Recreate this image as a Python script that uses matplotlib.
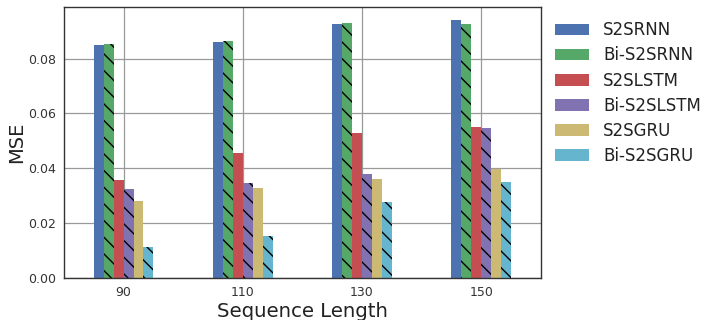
import matplotlib
matplotlib.use("Agg")
import matplotlib.pyplot as plt
import numpy as np
from matplotlib.patches import Patch

categories = ["90", "110", "130", "150"]
series_names = ["S2SRNN", "Bi-S2SRNN", "S2SLSTM", "Bi-S2SLSTM", "S2SGRU", "Bi-S2SGRU"]
s2srnn = [0.0849, 0.0860, 0.0926, 0.0942]
bi_s2srnn = [0.0852, 0.0863, 0.0928, 0.0925]
s2slstm = [0.0359, 0.0455, 0.0529, 0.0551]
bi_s2slstm = [0.0323, 0.0345, 0.0381, 0.0546]
s2sgru = [0.0280, 0.0327, 0.0362, 0.0398]
bi_s2sgru = [0.0113, 0.0155, 0.0276, 0.0350]
values = [s2srnn, bi_s2srnn, s2slstm, bi_s2slstm, s2sgru, bi_s2sgru]

colors = ["#4C72B0", "#55A868", "#C44E52", "#8172B2", "#CCB974", "#64B5CD"]
hatches = [None, "\\\\", None, "\\\\", None, "\\\\"]

plt.rcParams["hatch.color"] = "black"
plt.rcParams["hatch.linewidth"] = 1.0

fig = plt.figure(figsize=(7.27, 3.2), dpi=100)
ax = fig.add_axes([0.088, 0.131, 0.656, 0.847])

n = len(series_names)
total_w = 0.5
w = total_w / n
x = np.arange(len(categories))
for i, (name, vals) in enumerate(zip(series_names, values)):
    off = -total_w / 2 + w * (i + 0.5)
    ax.bar(x + off, vals, width=w, color=colors[i], hatch=hatches[i],
           linewidth=0, label=name, zorder=2)

ax.set_xlim(-0.5, len(categories) - 0.5)
ax.set_xticks(x)
ax.set_xticklabels(categories)
ax.set_ylim(0, 0.0988)
ax.set_yticks([0.0, 0.02, 0.04, 0.06, 0.08])
ax.set_yticklabels(["0.00", "0.02", "0.04", "0.06", "0.08"])
ax.grid(True, color="#999999", linewidth=0.9, zorder=0)
ax.set_axisbelow(True)
for s in ax.spines.values():
    s.set_color("#333333")
    s.set_linewidth(1.0)
ax.tick_params(axis="both", length=0, labelsize=9, colors="#333333", pad=6)
ax.set_xlabel("Sequence Length", fontsize=14.2, color="#222222", labelpad=2)
ax.set_ylabel("MSE", fontsize=14, color="#222222", labelpad=1)

handles = [Patch(facecolor=c, edgecolor="none") for c in colors]
ax.legend(handles, series_names, loc="upper left", bbox_to_anchor=(0.999, 1.003),
          frameon=False, fontsize=12, handlelength=2.0, handleheight=0.7,
          labelspacing=0.43, handletextpad=0.85, labelcolor="#222222")

fig.savefig("out.png", dpi=100)
